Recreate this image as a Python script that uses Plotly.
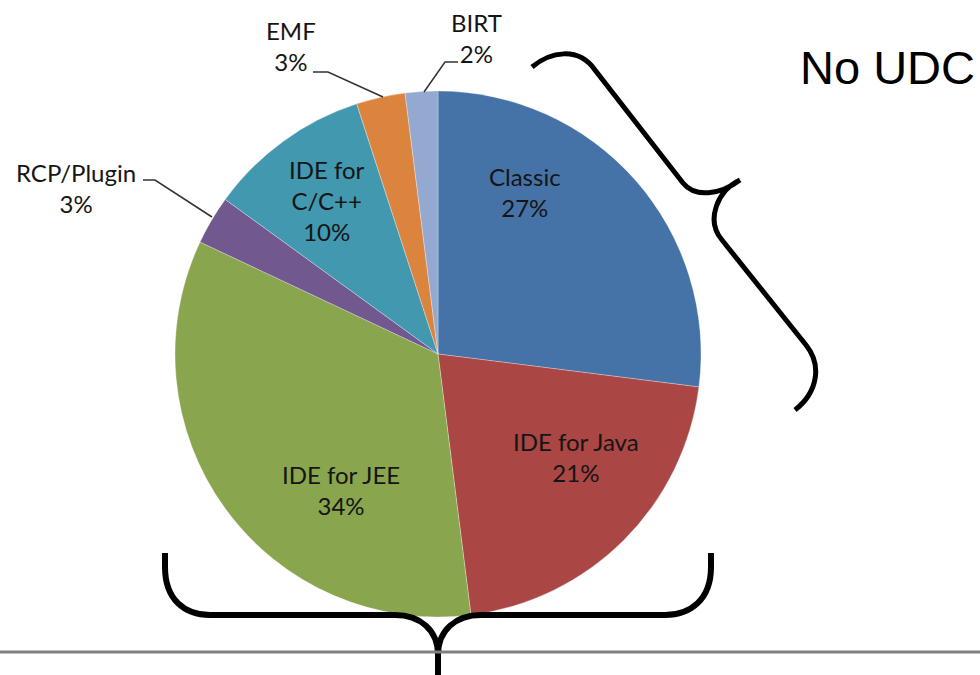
import plotly.graph_objects as go

# ---- data ----
labels = ["Classic", "IDE for Java", "IDE for JEE", "RCP/Plugin", "IDE for C/C++", "EMF", "BIRT"]
values = [27, 21, 34, 3, 10, 3, 2]
colors = ["#4572A7", "#AA4643", "#89A54E", "#71588F", "#4198AF", "#DB843D", "#93A9CF"]
side_note = "No UDC"

W, H = 980, 675


def px(x, y):
    return x / W, 1 - y / H


def path(cmds):
    out = []
    for c in cmds:
        if isinstance(c, str):
            out.append(c)
        else:
            xx, yy = px(*c)
            out.append(f"{xx:.5f},{yy:.5f}")
    return " ".join(out)


# pie geometry (pixels)
cx, cy, r = 438, 354, 263

fig = go.Figure()
fig.add_trace(go.Pie(
    labels=labels, values=values, sort=False, direction="clockwise", rotation=0,
    marker=dict(colors=colors, line=dict(color="rgba(255,255,255,0.5)", width=0.6)),
    textinfo="none", hoverinfo="label+percent", showlegend=False,
    domain=dict(x=[(cx - r) / W, (cx + r) / W], y=[1 - (cy + r) / H, 1 - (cy - r) / H]),
))

# label layout (block centre in pixels)
label_pos = {
    "Classic": (525, 192),
    "IDE for Java": (576, 457),
    "IDE for JEE": (341, 490),
    "RCP/Plugin": (76, 188),
    "IDE for C/C++": (327, 200),
    "EMF": (291, 46),
    "BIRT": (476, 38),
}
display = {"IDE for C/C++": "IDE for<br>C/C++"}
total = sum(values)
annotations = []
for lab, v in zip(labels, values):
    x, y = label_pos[lab]
    xx, yy = px(x, y)
    txt = f"{display.get(lab, lab)}<br>{round(100 * v / total)}%"
    annotations.append(dict(
        x=xx, y=yy, xref="paper", yref="paper", text=txt, showarrow=False,
        xanchor="center", yanchor="middle",
        font=dict(family="Lato, Open Sans, sans-serif", size=24, color="#151515"),
    ))

nx, ny = px(977, 67)
annotations.append(dict(
    x=nx, y=ny, xref="paper", yref="paper", text=side_note, showarrow=False,
    xanchor="right", yanchor="middle",
    font=dict(family="Liberation Sans, Arial, sans-serif", size=47, color="#000000"),
))

shapes = []
# leader lines
for pts in [
    [(313, 72), (328, 72), (383, 97)],      # EMF
    [(458, 62), (445, 62), (424, 92)],      # BIRT
    [(143, 180), (155, 180), (212, 217)],   # RCP/Plugin
]:
    cmds = ["M", pts[0]]
    for p in pts[1:]:
        cmds += ["L", p]
    shapes.append(dict(type="path", xref="paper", yref="paper", path=path(cmds),
                       line=dict(color="#333333", width=1.5)))

# right curly brace
shapes.append(dict(type="path", xref="paper", yref="paper", path=path([
    "M", (532, 67), "C", (550, 52), (578, 46), (595, 70), "L", (683, 183),
    "C", (695, 198), (720, 195), (740, 180),
    "M", (740, 180), "C", (718, 190), (705, 220), (722, 240), "L", (806, 345),
    "C", (822, 365), (818, 392), (795, 410),
]), line=dict(color="#000000", width=5)))

# bottom curly brace
shapes.append(dict(type="path", xref="paper", yref="paper", path=path([
    "M", (165, 553), "L", (165, 567), "C", (165, 600), (185, 615), (210, 615),
    "L", (395, 615), "C", (420, 615), (438, 630), (438, 655), "L", (438, 675),
    "M", (711, 553), "L", (711, 567), "C", (711, 600), (690, 615), (665, 615),
    "L", (481, 615), "C", (456, 615), (438, 630), (438, 655),
]), line=dict(color="#000000", width=6)))

# grey horizontal rule
shapes.append(dict(type="line", xref="paper", yref="paper",
                   x0=0, x1=1, y0=px(0, 652)[1], y1=px(0, 652)[1],
                   line=dict(color="#808080", width=3)))

fig.update_layout(
    width=W, height=H, autosize=False,
    margin=dict(l=0, r=0, t=0, b=0),
    paper_bgcolor="white", plot_bgcolor="white",
    annotations=annotations, shapes=shapes,
)

fig.write_html(
    "out.html",
    config={"displayModeBar": False},
    post_script="document.body.style.margin='0';document.body.style.overflow='hidden';",
)
